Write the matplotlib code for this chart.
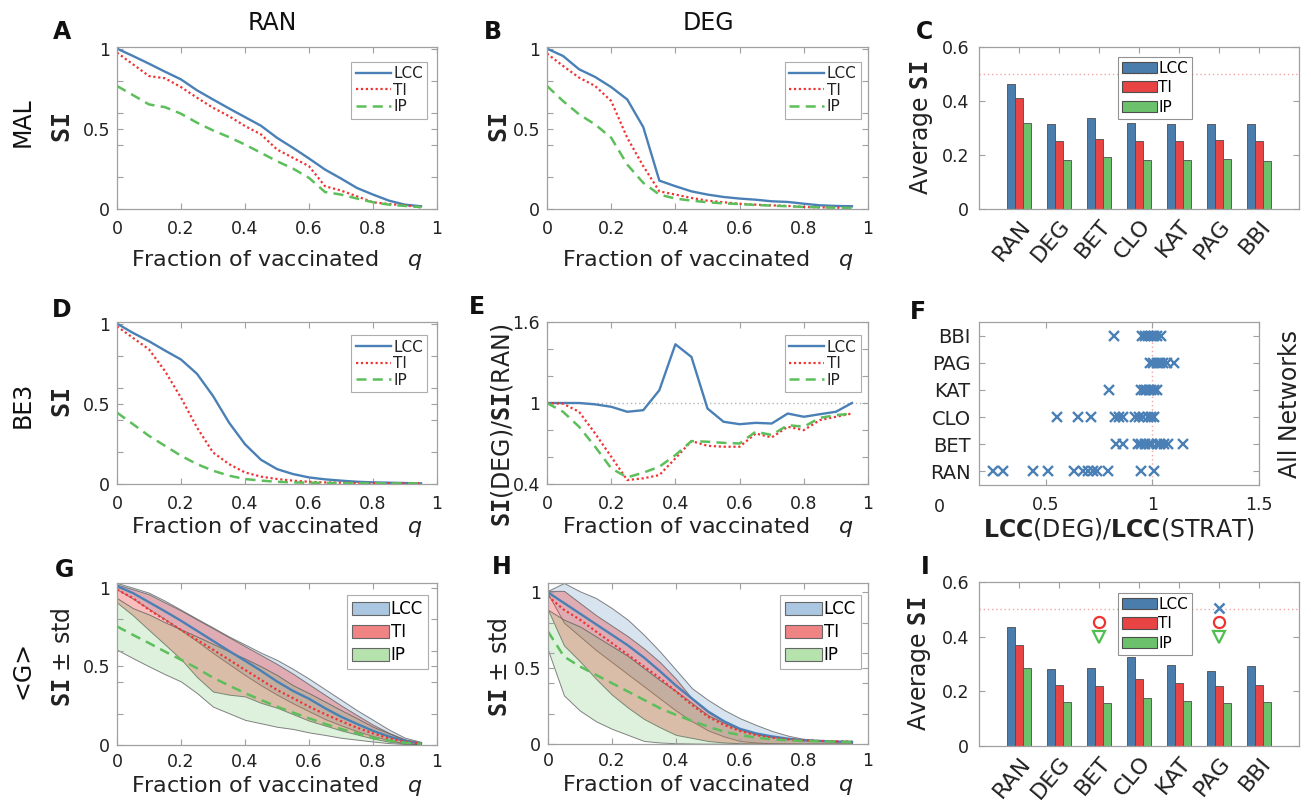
import numpy as np
import matplotlib
matplotlib.use('Agg')
import matplotlib.pyplot as plt
from matplotlib.patches import Patch
from matplotlib.colors import to_rgba
import matplotlib.transforms as mtransforms

plt.rcParams['font.family'] = ['DejaVu Sans']
plt.rcParams['mathtext.fontset'] = 'custom'
plt.rcParams['mathtext.rm'] = 'DejaVu Sans'
plt.rcParams['mathtext.it'] = 'DejaVu Sans:italic'
plt.rcParams['mathtext.bf'] = 'DejaVu Sans Mono:bold'
plt.rcParams['mathtext.sf'] = 'DejaVu Sans:bold'

# ---------------- data ----------------
q = [0.0, 0.05, 0.1, 0.15, 0.2, 0.25, 0.3, 0.35, 0.4, 0.45,
     0.5, 0.55, 0.6, 0.65, 0.7, 0.75, 0.8, 0.85, 0.9, 0.95]

# A: MAL, RAN
a_lcc = [1.0, 0.954, 0.906, 0.856, 0.808, 0.74, 0.683, 0.627, 0.573, 0.519,
         0.444, 0.381, 0.315, 0.246, 0.19, 0.131, 0.09, 0.052, 0.027, 0.017]
a_ti = [0.975, 0.902, 0.829, 0.815, 0.76, 0.694, 0.631, 0.579, 0.517, 0.465,
        0.371, 0.319, 0.267, 0.142, 0.115, 0.079, 0.042, 0.031, 0.023, 0.01]
a_ip = [0.767, 0.71, 0.652, 0.635, 0.594, 0.538, 0.49, 0.448, 0.402, 0.35,
        0.298, 0.252, 0.194, 0.106, 0.09, 0.065, 0.042, 0.027, 0.019, 0.012]

# B: MAL, DEG
b_lcc = [1.0, 0.954, 0.871, 0.823, 0.76, 0.683, 0.51, 0.177, 0.142, 0.11,
         0.09, 0.075, 0.065, 0.058, 0.048, 0.044, 0.033, 0.023, 0.019, 0.017]
b_ti = [0.969, 0.892, 0.819, 0.767, 0.673, 0.444, 0.267, 0.11, 0.09, 0.069,
        0.052, 0.042, 0.033, 0.027, 0.023, 0.019, 0.013, 0.01, 0.008, 0.006]
b_ip = [0.767, 0.673, 0.59, 0.527, 0.444, 0.277, 0.163, 0.09, 0.065, 0.052,
        0.042, 0.035, 0.031, 0.025, 0.021, 0.017, 0.013, 0.01, 0.008, 0.006]

# D: BE3, DEG
d_lcc = [1.0, 0.942, 0.89, 0.832, 0.776, 0.687, 0.549, 0.383, 0.248, 0.151,
         0.093, 0.062, 0.041, 0.029, 0.021, 0.014, 0.01, 0.008, 0.006, 0.004]
d_ti = [0.983, 0.911, 0.839, 0.704, 0.538, 0.352, 0.197, 0.124, 0.072, 0.046,
        0.031, 0.021, 0.014, 0.01, 0.008, 0.006, 0.006, 0.005, 0.004, 0.004]
d_ip = [0.445, 0.373, 0.30, 0.238, 0.176, 0.124, 0.083, 0.052, 0.031, 0.021,
        0.014, 0.01, 0.008, 0.007, 0.006, 0.005, 0.005, 0.004, 0.004, 0.004]

# E: ratio DEG / RAN
e_lcc = [1.0, 1.0, 1.0, 0.99, 0.972, 0.935, 0.947, 1.095, 1.435, 1.341,
         0.959, 0.861, 0.843, 0.853, 0.848, 0.922, 0.898, 0.917, 0.935, 1.0]
e_ti = [1.0, 0.995, 0.935, 0.774, 0.602, 0.429, 0.442, 0.466, 0.59, 0.718,
        0.683, 0.676, 0.676, 0.774, 0.745, 0.824, 0.799, 0.873, 0.898, 0.922]
e_ip = [1.0, 0.935, 0.824, 0.676, 0.516, 0.449, 0.484, 0.528, 0.614, 0.718,
        0.713, 0.705, 0.70, 0.787, 0.763, 0.836, 0.824, 0.89, 0.91, 0.922]

# C and I: average SI per strategy
strategies = ['RAN', 'DEG', 'BET', 'CLO', 'KAT', 'PAG', 'BBI']
c_lcc = [0.462, 0.315, 0.336, 0.318, 0.314, 0.313, 0.314]
c_ti = [0.411, 0.253, 0.261, 0.253, 0.251, 0.255, 0.251]
c_ip = [0.319, 0.181, 0.192, 0.182, 0.182, 0.184, 0.179]
i_lcc = [0.435, 0.283, 0.287, 0.325, 0.295, 0.274, 0.292]
i_ti = [0.371, 0.223, 0.221, 0.246, 0.229, 0.218, 0.225]
i_ip = [0.286, 0.160, 0.158, 0.175, 0.164, 0.156, 0.160]
i_mark_cat = ['BET', 'PAG']
i_mark_lcc = [np.nan, 0.504]
i_mark_ti = [0.452, 0.452]
i_mark_ip = [0.399, 0.397]

# F: LCC(DEG)/LCC(STRAT) for all networks
f_categories = ['RAN', 'BET', 'CLO', 'KAT', 'PAG', 'BBI']
f_ran = [0.253, 0.30, 0.441, 0.511, 0.633, 0.675, 0.698, 0.722, 0.742, 0.792, 0.944, 1.008]
f_bet = [0.831, 0.863, 0.93, 0.948, 0.967, 0.983, 0.998, 1.019, 1.034, 1.055, 1.073, 1.144]
f_clo = [0.55, 0.652, 0.711, 0.823, 0.842, 0.863, 0.917, 0.936, 0.956, 0.977, 0.995, 1.008]
f_kat = [0.797, 0.948, 0.961, 0.972, 0.983, 0.995, 1.008, 1.019]
f_pag = [0.988, 1.003, 1.019, 1.034, 1.05, 1.066, 1.10]
f_bbi = [0.82, 0.953, 0.967, 0.98, 0.992, 1.005, 1.019, 1.042]

# G: all networks, RAN (mean and band)
g_lcc = [1.01, 0.966, 0.908, 0.85, 0.79, 0.726, 0.662, 0.598, 0.536, 0.472,
         0.404, 0.344, 0.294, 0.234, 0.18, 0.134, 0.09, 0.054, 0.026, 0.01]
g_lcc_hi = [1.03, 1.0, 0.968, 0.917, 0.86, 0.803, 0.747, 0.69, 0.639, 0.587,
            0.541, 0.484, 0.422, 0.355, 0.288, 0.221, 0.16, 0.098, 0.046, 0.02]
g_lcc_lo = [0.99, 0.93, 0.865, 0.80, 0.73, 0.66, 0.585, 0.515, 0.445, 0.38,
            0.32, 0.265, 0.215, 0.165, 0.125, 0.088, 0.057, 0.031, 0.012, 0.005]
g_ti = [0.988, 0.934, 0.86, 0.796, 0.732, 0.668, 0.606, 0.542, 0.478, 0.414,
        0.35, 0.298, 0.244, 0.196, 0.152, 0.11, 0.074, 0.042, 0.022, 0.01]
g_ti_hi = [1.02, 0.99, 0.958, 0.906, 0.855, 0.798, 0.742, 0.685, 0.628, 0.572,
           0.515, 0.453, 0.386, 0.319, 0.252, 0.19, 0.129, 0.077, 0.036, 0.015]
g_ti_lo = [0.906, 0.824, 0.731, 0.639, 0.546, 0.432, 0.34, 0.32, 0.309, 0.268,
           0.237, 0.196, 0.155, 0.124, 0.093, 0.067, 0.041, 0.021, 0.01, 0.005]
g_ip = [0.754, 0.70, 0.648, 0.594, 0.542, 0.488, 0.428, 0.378, 0.33, 0.286,
        0.244, 0.206, 0.17, 0.134, 0.102, 0.074, 0.046, 0.028, 0.014, 0.008]
g_ip_hi = [0.934, 0.87, 0.83, 0.78, 0.735, 0.69, 0.643, 0.595, 0.55, 0.50,
           0.445, 0.38, 0.33, 0.276, 0.222, 0.17, 0.116, 0.074, 0.032, 0.01]
g_ip_lo = [0.606, 0.552, 0.50, 0.45, 0.404, 0.33, 0.244, 0.202, 0.16, 0.138,
           0.116, 0.102, 0.08, 0.064, 0.046, 0.034, 0.022, 0.012, 0.006, 0.004]

# H: all networks, DEG (mean and band)
h_lcc = [1.0, 0.93, 0.86, 0.79, 0.72, 0.65, 0.57, 0.48, 0.385, 0.3,
         0.215, 0.15, 0.1, 0.07, 0.05, 0.035, 0.025, 0.02, 0.016, 0.014]
h_lcc_hi = [1.011, 1.062, 1.007, 0.963, 0.896, 0.819, 0.72, 0.61, 0.489, 0.368,
            0.291, 0.225, 0.17, 0.126, 0.086, 0.055, 0.033, 0.024, 0.02, 0.018]
h_lcc_lo = [0.99, 0.80, 0.71, 0.62, 0.54, 0.46, 0.38, 0.30, 0.22, 0.15,
            0.09, 0.05, 0.02, 0.01, 0.005, 0.003, 0.002, 0.002, 0.002, 0.002]
h_ti = [0.974, 0.885, 0.82, 0.742, 0.665, 0.588, 0.511, 0.434, 0.346, 0.258,
        0.18, 0.126, 0.086, 0.059, 0.042, 0.031, 0.024, 0.02, 0.018, 0.015]
h_ti_hi = [1.01, 1.01, 0.93, 0.85, 0.78, 0.71, 0.63, 0.54, 0.43, 0.30,
           0.21, 0.15, 0.10, 0.07, 0.05, 0.035, 0.028, 0.022, 0.018, 0.016]
h_ti_lo = [0.885, 0.65, 0.545, 0.43, 0.325, 0.24, 0.165, 0.11, 0.06, 0.04,
           0.02, 0.01, 0.005, 0.003, 0.002, 0.002, 0.002, 0.002, 0.002, 0.002]
h_ip = [0.742, 0.577, 0.511, 0.456, 0.401, 0.346, 0.291, 0.236, 0.192, 0.152,
        0.115, 0.081, 0.059, 0.042, 0.031, 0.024, 0.02, 0.018, 0.015, 0.013]
h_ip_hi = [0.885, 0.82, 0.775, 0.71, 0.645, 0.58, 0.50, 0.42, 0.35, 0.27,
           0.19, 0.14, 0.095, 0.065, 0.046, 0.035, 0.03, 0.025, 0.02, 0.018]
h_ip_lo = [0.62, 0.32, 0.22, 0.15, 0.10, 0.06, 0.02, 0.01, 0.005, 0.003,
           0.002, 0.002, 0.002, 0.002, 0.002, 0.002, 0.002, 0.002, 0.002, 0.002]

series_names = ['LCC', 'TI', 'IP']

# ---------------- style ----------------
C_BLUE = '#4a80b5'
C_RED = '#f03434'
C_GREEN = '#5cbf5c'
BAR_BLUE = '#4a7cac'
BAR_RED = '#e84444'
BAR_GREEN = '#6cc26c'
FRAME = '#a0a0a0'
TXT = '#222222'
TICK_FS = 12.5
LAB_FS = 16

W, H = 1311, 808
fig = plt.figure(figsize=(W / 100, H / 100), dpi=100)


def add_ax(x0, y0, x1, y1):
    return fig.add_axes([x0 / W, 1 - y1 / H, (x1 - x0) / W, (y1 - y0) / H])


def style(ax, xpad=8, ypad=5):
    for s in ax.spines.values():
        s.set_color(FRAME)
        s.set_linewidth(0.9)
    ax.tick_params(which='both', direction='in', top=True, right=True,
                   length=4, width=0.8, color=FRAME, labelsize=TICK_FS,
                   labelcolor=TXT)
    ax.tick_params(axis='x', pad=xpad)
    ax.tick_params(axis='y', pad=ypad)


def frac_xlabel(ax, ypos):
    ax.set_xlabel(r'Fraction of vaccinated    $q$', fontsize=LAB_FS,
                  color=TXT, va='center')
    ax.xaxis.set_label_coords(0.5, ypos)


def si_yaxis(ax, ylim):
    ax.set_ylim(*ylim)
    ax.set_yticks([0, 0.5, 1])
    ax.set_yticklabels(['0', '0.5', '1'])
    ax.set_yticks([0.2, 0.4, 0.6, 0.8], minor=True)
    ax.set_xlim(0, 1)
    ax.set_xticks([0, 0.2, 0.4, 0.6, 0.8, 1])
    ax.set_xticklabels(['0', '0.2', '0.4', '0.6', '0.8', '1'])


def line_legend(ax, anchor):
    leg = ax.legend(loc='upper right', bbox_to_anchor=anchor, fontsize=11,
                    frameon=True, fancybox=False, edgecolor='#999999',
                    handlelength=2.3, handletextpad=0.15, labelspacing=0.1,
                    borderpad=0.3, borderaxespad=0)
    leg.get_frame().set_linewidth(0.8)
    for t in leg.get_texts():
        t.set_color(TXT)


def line_panel(ax, lcc, ti, ip):
    ax.plot(q, lcc, color=C_BLUE, lw=1.7, label=series_names[0])
    ax.plot(q, ti, color=C_RED, lw=1.6, ls=(0, (1, 1.2)), label=series_names[1])
    ax.plot(q, ip, color=C_GREEN, lw=1.8, ls=(0, (4, 2.5)), label=series_names[2])


BAND_COLS = ['#4a80b5', '#f03c3c', '#55bb55']
BAND_ALPHAS = [0.22, 0.33, 0.2]
BAND_LEG = ['#aac6e0', '#f08484', '#b6e2ae']


def band_panel(ax, means, his, los):
    for m, hi, lo, c, a in zip(means, his, los, BAND_COLS, BAND_ALPHAS):
        ax.fill_between(q, lo, hi, facecolor=to_rgba(c, a),
                        edgecolor=to_rgba('#5a5a5a', 0.75), lw=0.7)
    ax.plot(q, means[0], color=C_BLUE, lw=1.7)
    ax.plot(q, means[1], color=C_RED, lw=1.6, ls=(0, (1, 1.2)))
    ax.plot(q, means[2], color=C_GREEN, lw=1.8, ls=(0, (4, 2.5)))


def band_legend(ax, anchor):
    handles = [Patch(facecolor=c, edgecolor='#666666', lw=0.8)
               for c in BAND_LEG]
    leg = ax.legend(handles, series_names, loc='upper right',
                    bbox_to_anchor=anchor, fontsize=12, frameon=True,
                    fancybox=False, edgecolor='#999999', handlelength=2.2,
                    handleheight=0.8, handletextpad=0.1, labelspacing=0.3,
                    borderpad=0.3, borderaxespad=0)
    leg.get_frame().set_linewidth(0.8)


def bar_panel(ax, lcc, ti, ip, ylab_x):
    x = np.arange(1, len(strategies) + 1)
    for vals, off, c in zip([lcc, ti, ip], [-0.2, 0, 0.2],
                            [BAR_BLUE, BAR_RED, BAR_GREEN]):
        ax.bar(x + off, vals, width=0.18, color=c, edgecolor='#4d4d4d',
               lw=0.6, zorder=2)
    ax.axhline(0.5, color='#f2a6a6', lw=1.0, ls=(0, (1, 2)), zorder=1)
    ax.set_xlim(0, 8)
    ax.set_ylim(0, 0.6)
    ax.set_yticks([0, 0.2, 0.4, 0.6])
    ax.set_yticklabels(['0', '0.2', '0.4', '0.6'])
    ax.set_xticks(x)
    ax.set_xticklabels(strategies, rotation=50, ha='right',
                       rotation_mode='anchor', fontsize=16)
    ax.tick_params(axis='x', pad=5)
    ax.tick_params(axis='y', pad=7)
    ax.set_ylabel(r'Average $\mathbf{SI}$', fontsize=17, color=TXT)
    ax.yaxis.set_label_coords(ylab_x, 0.5)


def bar_legend(ax, anchor):
    handles = [Patch(facecolor=c, edgecolor='#4d4d4d', lw=0.8)
               for c in [BAR_BLUE, BAR_RED, BAR_GREEN]]
    leg = ax.legend(handles, series_names, loc='upper center',
                    bbox_to_anchor=anchor, fontsize=11, frameon=True,
                    fancybox=False, edgecolor='#777777', handlelength=2.3,
                    handleheight=0.75, handletextpad=0.1, labelspacing=0.3,
                    borderpad=0.25, borderaxespad=0)
    leg.get_frame().set_linewidth(0.8)
    leg.set_zorder(5)


def si_ylabel(ax, xpos, ypos=0.5):
    ax.set_ylabel(r'$\mathbf{SI}$', fontsize=18, color=TXT)
    ax.yaxis.set_label_coords(xpos, ypos)


# ---------------- panel A ----------------
axA = add_ax(117, 47, 437, 209)
style(axA)
line_panel(axA, a_lcc, a_ti, a_ip)
si_yaxis(axA, (0, 1.01))
line_legend(axA, (0.97, 0.91))
frac_xlabel(axA, -0.315)
si_ylabel(axA, -0.131)

# ---------------- panel B ----------------
axB = add_ax(547, 47, 868, 209)
style(axB)
line_panel(axB, b_lcc, b_ti, b_ip)
si_yaxis(axB, (0, 1.01))
line_legend(axB, (0.978, 0.91))
frac_xlabel(axB, -0.315)
si_ylabel(axB, -0.109)

# ---------------- panel C ----------------
axC = add_ax(979, 47, 1299, 209)
style(axC)
bar_panel(axC, c_lcc, c_ti, c_ip, -0.1375)
bar_legend(axC, (0.55, 0.94))

# ---------------- panel D ----------------
axD = add_ax(117, 322, 437, 484)
style(axD)
line_panel(axD, d_lcc, d_ti, d_ip)
si_yaxis(axD, (0, 1.01))
line_legend(axD, (0.97, 0.92))
frac_xlabel(axD, -0.265)
si_ylabel(axD, -0.131)

# ---------------- panel E ----------------
axE = add_ax(547, 322, 868, 484)
style(axE)
axE.axhline(1.0, color='#b5b5b5', lw=1.0, ls=(0, (1, 2)), zorder=1)
line_panel(axE, e_lcc, e_ti, e_ip)
axE.set_ylim(0.4, 1.6)
axE.set_yticks([0.4, 0.6, 0.8, 1.0, 1.2, 1.4, 1.6])
axE.set_yticklabels(['0.4', '', '', '1', '', '', '1.6'])
axE.set_xlim(0, 1)
axE.set_xticks([0, 0.2, 0.4, 0.6, 0.8, 1])
axE.set_xticklabels(['0', '0.2', '0.4', '0.6', '0.8', '1'])
line_legend(axE, (0.978, 0.92))
frac_xlabel(axE, -0.265)
axE.set_ylabel(r'$\mathbf{SI}$(DEG)/$\mathbf{SI}$(RAN)', fontsize=17,
               color=TXT)
axE.yaxis.set_label_coords(-0.1, 0.36)

# ---------------- panel F ----------------
axF = add_ax(979, 322, 1259, 485)
style(axF)
f_lists = [f_ran, f_bet, f_clo, f_kat, f_pag, f_bbi]
for k, vals in enumerate(f_lists):
    axF.plot(vals, [k + 1] * len(vals), ls='none', marker='x', ms=6.5,
             mew=1.7, color=C_BLUE)
axF.axvline(1.0, color='#f2a6a6', lw=1.0, ls=(0, (1, 2)), zorder=0)
axF.set_xlim(0.186, 1.5)
axF.set_ylim(0.5, 6.5)
axF.set_xticks([0.5, 1, 1.5])
axF.set_xticklabels(['0.5', '1', '1.5'])
axF.set_yticks(range(1, len(f_categories) + 1))
axF.set_yticklabels(f_categories, fontsize=14)
axF.tick_params(axis='y', pad=6)
trF = mtransforms.blended_transform_factory(axF.transData, axF.transAxes)
axF.text(0, -0.135, '0', transform=trF, ha='center', va='center',
         fontsize=TICK_FS, color=TXT, clip_on=False)
axF.set_xlabel(r'$\mathsf{LCC}$(DEG)/$\mathsf{LCC}$(STRAT)', fontsize=17,
               color=TXT, va='center')
axF.xaxis.set_label_coords(0.5, -0.27)
axF.yaxis.set_label_position('right')
axF.set_ylabel('All Networks', fontsize=17, color=TXT, rotation=90)
axF.yaxis.set_label_coords(1.068, 0.5)

# ---------------- panel G ----------------
axG = add_ax(117, 583, 437, 745)
style(axG, xpad=6)
band_panel(axG, [g_lcc, g_ti, g_ip], [g_lcc_hi, g_ti_hi, g_ip_hi],
           [g_lcc_lo, g_ti_lo, g_ip_lo])
si_yaxis(axG, (0, 1.03))
band_legend(axG, (0.972, 0.926))
frac_xlabel(axG, -0.25)
axG.set_ylabel(r'$\mathbf{SI}$ $\pm$ std', fontsize=17, color=TXT)
axG.yaxis.set_label_coords(-0.131, 0.54)

# ---------------- panel H ----------------
axH = add_ax(548, 583, 868, 744)
style(axH, xpad=6)
band_panel(axH, [h_lcc, h_ti, h_ip], [h_lcc_hi, h_ti_hi, h_ip_hi],
           [h_lcc_lo, h_ti_lo, h_ip_lo])
si_yaxis(axH, (0, 1.062))
band_legend(axH, (0.978, 0.925))
frac_xlabel(axH, -0.255)
axH.set_ylabel(r'$\mathbf{SI}$ $\pm$ std', fontsize=17, color=TXT)
axH.yaxis.set_label_coords(-0.1125, 0.48)

# ---------------- panel I ----------------
axI = add_ax(979, 582, 1299, 746)
style(axI)
bar_panel(axI, i_lcc, i_ti, i_ip, -0.144)
bar_legend(axI, (0.55, 0.933))
xm = [strategies.index(s) + 1 for s in i_mark_cat]
axI.plot(xm, i_mark_lcc, ls='none', marker='x', ms=7, mew=1.8,
         color=C_BLUE, zorder=3)
axI.plot(xm, i_mark_ti, ls='none', marker='o', ms=8, mew=1.6,
         mfc='none', mec='#ee3333', zorder=3)
axI.plot(xm, i_mark_ip, ls='none', marker='v', ms=9, mew=1.6,
         mfc='none', mec='#4fbf4f', zorder=3)

# ---------------- figure texts ----------------
def ftext(x, y, s, **kw):
    fig.text(x / W, 1 - y / H, s, ha='center', va='center', color='#111111',
             **kw)

for lab, (x, y) in zip('ABCDEFGHI',
                       [(62, 32), (493, 32), (925, 32), (62, 310), (477, 307),
                        (918, 312), (65, 570), (502, 567), (925, 567)]):
    ftext(x, y, lab, fontsize=17, fontweight='bold')

ftext(272, 23, 'RAN', fontsize=17)
ftext(708, 23, 'DEG', fontsize=17)
ftext(23, 122, 'MAL', fontsize=17, rotation=90)
ftext(23, 405, 'BE3', fontsize=17, rotation=90)
ftext(23, 670, '<G>', fontsize=17, rotation=90)

fig.savefig('out.png', dpi=100)
